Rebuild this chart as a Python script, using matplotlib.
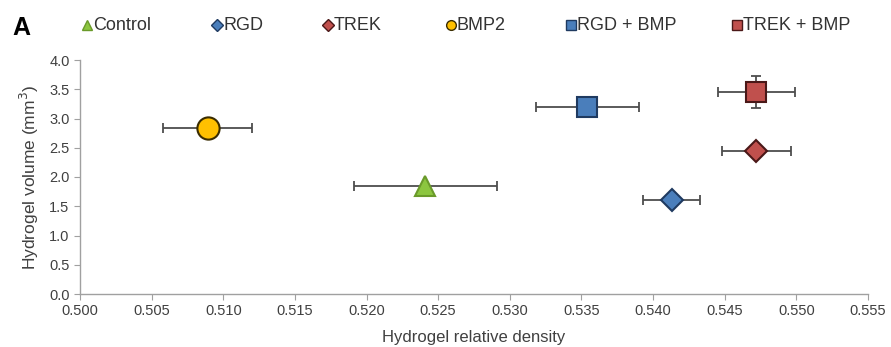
import matplotlib.pyplot as plt
from matplotlib.lines import Line2D

plt.rcParams['font.family'] = ['Liberation Sans', 'DejaVu Sans']

# values
groups = ['Control', 'RGD', 'TREK', 'BMP2', 'RGD + BMP', 'TREK + BMP']
density = [0.5241, 0.5413, 0.5472, 0.5089, 0.5354, 0.5472]
density_err = [0.0050, 0.0020, 0.0024, 0.0031, 0.0036, 0.0027]
volume = [1.84, 1.61, 2.44, 2.84, 3.20, 3.45]
volume_err = [0, 0, 0, 0, 0, 0.27]

markers = ['^', 'D', 'D', 'o', 's', 's']
sizes = [15, 11, 11, 16, 15, 15]
faces = ['#8cc63f', '#4a7ebb', '#c0504d', '#ffc000', '#4a7ebb', '#c0504d']
edges = ['#6a9a2a', '#1f3a60', '#4a1818', '#3a2c00', '#1f3a60', '#4a1818']

fig = plt.figure(figsize=(8.91, 3.47), dpi=100)
W, H = 891, 347
ax = fig.add_axes([80 / W, 1 - 294 / H, 788 / W, 234 / H])

for i in range(len(groups)):
    yerr = volume_err[i] if volume_err[i] > 0 else None
    ax.errorbar(density[i], volume[i], xerr=density_err[i], yerr=yerr,
                fmt='none', ecolor='#4d4d4d', elinewidth=1.3, capsize=3.5,
                capthick=1.3, zorder=2)
    ax.plot(density[i], volume[i], marker=markers[i], ms=sizes[i],
            mfc=faces[i], mec=edges[i], mew=1.5, ls='none', zorder=3)

ax.set_xlim(0.500, 0.555)
ax.set_ylim(0.0, 4.0)
ax.set_xticks([0.500 + 0.005 * k for k in range(12)])
ax.set_xticklabels([f'{0.500 + 0.005 * k:.3f}' for k in range(12)])
ax.set_yticks([0.5 * k for k in range(9)])
ax.set_yticklabels([f'{0.5 * k:.1f}' for k in range(9)])

for s in ['top', 'right']:
    ax.spines[s].set_visible(False)
for s in ['left', 'bottom']:
    ax.spines[s].set_color('#a0a0a0')
    ax.spines[s].set_linewidth(1.0)
ax.tick_params(colors='#a0a0a0', labelcolor='#404040', labelsize=10.5,
               length=4, direction='out')

ax.set_xlabel('Hydrogel relative density', fontsize=12, color='#404040', labelpad=8)
ax.set_ylabel('Hydrogel volume (mm$^3$)', fontsize=12.5, color='#404040', labelpad=6)

# legend row across the top, placed by hand
legend_px = [87, 217, 328, 451, 571, 737]
legend_ms = [7, 6, 6, 7, 7, 7]
for i in range(len(groups)):
    fx = legend_px[i] / W
    fy = 1 - 25 / H
    fig.add_artist(Line2D([fx], [fy], transform=fig.transFigure, marker=markers[i],
                          ms=legend_ms[i], mfc=faces[i], mec=edges[i], mew=1.0,
                          ls='none'))
    fig.text(fx + 6 / W, fy, groups[i], fontsize=13, color='#333333',
             ha='left', va='center')

fig.text(12 / W, 1 - 28 / H, 'A', fontsize=18, fontweight='bold', va='center')

fig.savefig('out.png', dpi=100)
